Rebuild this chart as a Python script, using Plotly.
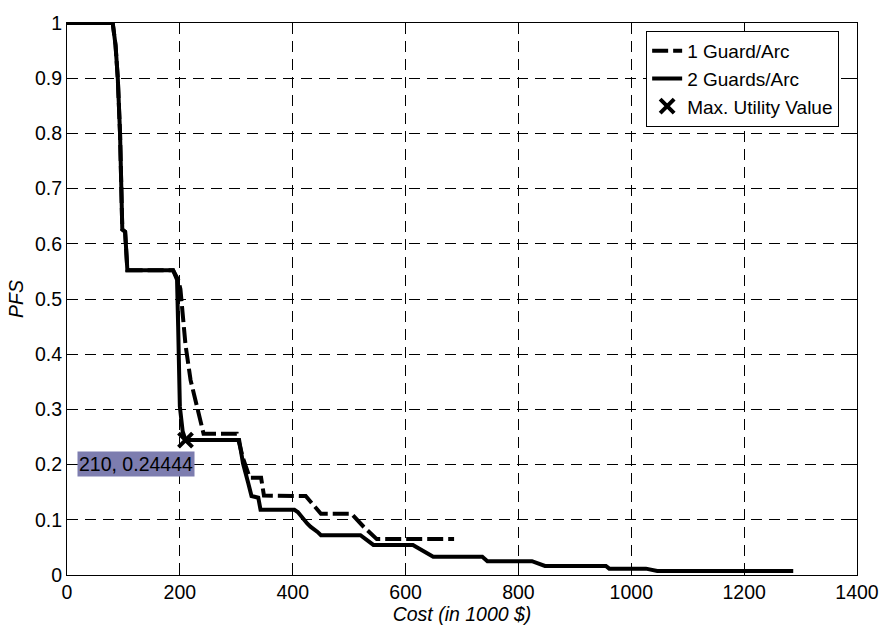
import plotly.graph_objects as go

# Cost (in 1000 $) vs. probability of failure (PFS) for two guard policies
cost_1guard = [0, 81, 86, 90, 94, 96, 98, 103, 107, 188, 197, 201, 210, 219, 232, 242,
               301, 312, 324, 344, 349, 423, 450, 504, 526, 549, 686]
pfs_1guard = [1.0, 1.0, 0.96, 0.9, 0.8, 0.7, 0.626, 0.622, 0.552, 0.552, 0.535, 0.518,
              0.417, 0.353, 0.300, 0.256, 0.256, 0.211, 0.176, 0.176, 0.144, 0.143,
              0.111, 0.111, 0.087, 0.065, 0.065]

cost_2guards = [0, 81, 86, 90, 94, 96, 98, 103, 107, 188, 195, 197, 199, 200, 205, 210,
                305, 312, 321, 327, 339, 343, 403, 409, 426, 432, 444, 450, 520, 543,
                613, 631, 649, 736, 745, 824, 847, 955, 961, 1026, 1046, 1287]
pfs_2guards = [1.0, 1.0, 0.96, 0.9, 0.8, 0.7, 0.626, 0.622, 0.552, 0.552, 0.535, 0.45,
               0.35, 0.305, 0.26, 0.24444, 0.24444, 0.202, 0.167, 0.143, 0.140, 0.118,
               0.118, 0.114, 0.093, 0.087, 0.078, 0.072, 0.072, 0.0545, 0.0545, 0.043,
               0.033, 0.033, 0.025, 0.025, 0.0165, 0.0165, 0.0115, 0.0115, 0.0074, 0.0074]

# Point of maximum utility
max_util_cost = [210]
max_util_pfs = [0.24444]

x_ticks = [0, 200, 400, 600, 800, 1000, 1200, 1400]
y_ticks = [0, 0.1, 0.2, 0.3, 0.4, 0.5, 0.6, 0.7, 0.8, 0.9, 1]

FONT = "Liberation Sans, Arial, Helvetica, sans-serif"
FS = 19.5

fig = go.Figure()
fig.add_trace(go.Scatter(
    x=cost_1guard, y=pfs_1guard, mode="lines", name="1 Guard/Arc",
    line=dict(color="black", width=4, dash="16px,5px")))
fig.add_trace(go.Scatter(
    x=cost_2guards, y=pfs_2guards, mode="lines", name="2 Guards/Arc",
    line=dict(color="black", width=4)))
fig.add_trace(go.Scatter(
    x=max_util_cost, y=max_util_pfs, mode="markers", name="Max. Utility Value",
    marker=dict(symbol="x-thin", size=14, line=dict(color="black", width=4), color="black")))

# Data tip next to the maximum-utility point
fig.add_annotation(
    x=max_util_cost[0], y=max_util_pfs[0], xref="x", yref="y",
    text=f"{max_util_cost[0]}, {max_util_pfs[0]:.5f}".rstrip("0"),
    showarrow=False, xanchor="right", yanchor="top", xshift=9, yshift=-10.5,
    bgcolor="rgb(125,125,175)", borderpad=1,
    font=dict(family=FONT, size=FS, color="black"))

axis_common = dict(
    showline=True, linecolor="black", linewidth=1, mirror="ticks",
    ticks="inside", ticklen=5, tickcolor="black", tickwidth=1,
    showgrid=True, gridcolor="black", gridwidth=1, griddash="11px,7px",
    zeroline=False, tickfont=dict(family=FONT, size=FS, color="black"),
)

fig.update_xaxes(range=[0, 1400], tickvals=x_ticks, ticktext=[str(v) for v in x_ticks],
                 title=dict(text="<i>Cost (in 1000 $)</i>", standoff=2,
                            font=dict(family=FONT, size=FS, color="black")),
                 **axis_common)
fig.update_yaxes(range=[0, 1], tickvals=y_ticks, ticktext=[f"{v:g}" for v in y_ticks],
                 title=dict(text="<i>PFS</i>", standoff=6,
                            font=dict(family=FONT, size=FS, color="black")),
                 **axis_common)

fig.update_layout(
    width=891, height=631,
    margin=dict(l=67, r=26, t=18, b=48),
    paper_bgcolor="white", plot_bgcolor="white",
    font=dict(family=FONT, size=FS, color="black"),
    legend=dict(x=0.9774, y=0.9858, xanchor="right", yanchor="top",
                bgcolor="white", bordercolor="black", borderwidth=1,
                font=dict(family=FONT, size=19, color="black"),
                tracegroupgap=0, itemwidth=30),
    showlegend=True,
)

fig.write_html("out.html")
